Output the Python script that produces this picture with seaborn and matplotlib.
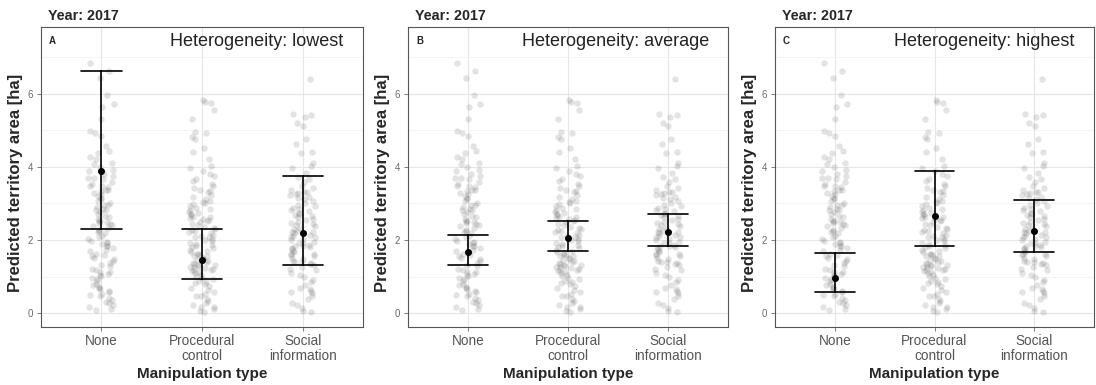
import numpy as np
import pandas as pd
import matplotlib
matplotlib.use("Agg")
import matplotlib.pyplot as plt
from matplotlib.ticker import FixedLocator
import seaborn as sns

# Manipulation categories and their axis labels
categories = ["None", "Procedural control", "Social information"]
tick_labels = ["None", "Procedural\ncontrol", "Social\ninformation"]

# Observed territory areas [ha] per manipulation type
area_none = [6.85, 6.62, 6.44, 5.96, 5.72, 5.63, 5.31, 4.98, 4.92, 4.86, 4.58, 4.43,
             4.38, 4.27, 4.21, 4.12, 4.07, 4.01, 3.93, 3.88, 3.81, 3.74, 3.69, 3.66,
             3.58, 3.52, 3.47, 3.44, 3.38, 3.33, 3.29, 3.27, 3.21, 3.14, 3.08, 3.02,
             2.97, 2.91, 2.86, 2.83, 2.77, 2.71, 2.66, 2.58, 2.53, 2.49, 2.46, 2.41,
             2.38, 2.33, 2.27, 2.24, 2.18, 2.11, 2.07, 2.02, 1.97, 1.93, 1.88, 1.84,
             1.79, 1.73, 1.69, 1.62, 1.58, 1.51, 1.47, 1.42, 1.36, 1.31, 1.28, 1.22,
             1.17, 1.13, 1.08, 1.02, 0.97, 0.93, 0.87, 0.81, 0.78, 0.72, 0.66, 0.61,
             0.57, 0.52, 0.46, 0.41, 0.36, 0.31, 0.27, 0.22, 0.17, 0.12, 0.08, 3.12,
             2.62, 1.95, 1.55, 2.81, 3.49, 2.21, 1.12, 0.68, 2.95, 1.83, 2.43, 3.36,
             3.71, 2.51, 1.04, 0.49]
area_procedural = [5.82, 5.78, 5.74, 5.55, 5.31, 4.97, 4.93, 4.83, 4.77, 4.52, 4.41,
                   4.22, 4.03, 3.97, 3.88, 3.82, 3.74, 3.66, 3.61, 3.54, 3.47, 3.42,
                   3.36, 3.31, 3.24, 3.18, 3.12, 3.07, 3.03, 2.98, 2.94, 2.89, 2.86,
                   2.81, 2.77, 2.73, 2.69, 2.64, 2.61, 2.57, 2.52, 2.48, 2.45, 2.41,
                   2.37, 2.33, 2.29, 2.26, 2.21, 2.18, 2.14, 2.11, 2.07, 2.03, 1.99,
                   1.96, 1.92, 1.88, 1.85, 1.81, 1.77, 1.74, 1.71, 1.67, 1.63, 1.59,
                   1.56, 1.52, 1.49, 1.45, 1.42, 1.38, 1.35, 1.31, 1.28, 1.25, 1.22,
                   1.18, 1.15, 1.12, 1.09, 1.05, 1.01, 0.97, 0.93, 0.89, 0.84, 0.79,
                   0.74, 0.68, 0.63, 0.57, 0.51, 0.46, 0.39, 0.33, 0.27, 0.21, 0.16,
                   0.11, 0.07, 0.04, 1.27, 1.33, 2.63, 1.41, 2.55, 1.19, 1.62, 2.08,
                   3.02, 2.71, 1.86, 0.48, 0.18, 2.27, 1.55, 3.33, 1.23, 0.82]
area_social = [6.41, 5.46, 5.41, 5.36, 5.21, 5.12, 4.76, 4.63, 4.42, 4.38, 4.12, 4.03,
               3.98, 3.84, 3.72, 3.66, 3.58, 3.49, 3.43, 3.37, 3.32, 3.28, 3.22, 3.17,
               3.11, 3.06, 3.01, 2.96, 2.92, 2.88, 2.83, 2.79, 2.74, 2.71, 2.66, 2.62,
               2.58, 2.54, 2.50, 2.46, 2.42, 2.38, 2.34, 2.30, 2.26, 2.22, 2.19, 2.15,
               2.11, 2.07, 2.03, 1.99, 1.95, 1.91, 1.87, 1.83, 1.79, 1.75, 1.71, 1.67,
               1.63, 1.59, 1.55, 1.51, 1.47, 1.43, 1.39, 1.35, 1.31, 1.27, 1.22, 1.17,
               1.11, 1.05, 0.98, 0.91, 0.84, 0.76, 0.68, 0.61, 0.55, 0.47, 0.38, 0.29,
               0.21, 0.13, 0.07, 0.04, 3.27, 3.31, 2.86, 1.82, 1.84, 1.41, 2.21, 2.68,
               1.63, 3.15, 2.44, 1.93, 0.58, 0.65, 2.09, 1.37]

# Model predictions per heterogeneity level: mean, lower and upper interval bound
panel_letters = ["A", "B", "C"]
heterogeneity = ["lowest", "average", "highest"]
pred_mean = [[3.89, 1.45, 2.20], [1.68, 2.06, 2.22], [0.96, 2.66, 2.26]]
pred_lower = [[2.29, 0.92, 1.31], [1.33, 1.71, 1.83], [0.57, 1.84, 1.66]]
pred_upper = [[6.63, 2.29, 3.74], [2.14, 2.52, 2.70], [1.65, 3.88, 3.10]]

raw = pd.DataFrame({
    "type": (["None"] * len(area_none) + ["Procedural control"] * len(area_procedural)
             + ["Social information"] * len(area_social)),
    "area": area_none + area_procedural + area_social,
})

sns.set_theme(style="white")
plt.rcParams["font.family"] = ["Liberation Sans", "DejaVu Sans"]

fig = plt.figure(figsize=(10.96, 3.85), dpi=100)
lefts = [41, 408, 775]
rights = [363, 728, 1094]
W, H = 1096, 385
bottom, top = 327, 27

for i in range(3):
    ax = fig.add_axes([lefts[i] / W, (H - bottom) / H,
                       (rights[i] - lefts[i]) / W, (bottom - top) / H])
    np.random.seed(7)
    sns.stripplot(data=raw, x="type", y="area", order=categories, ax=ax,
                  jitter=0.13, color="#5a5a5a", alpha=0.17, size=4.6,
                  linewidth=0, zorder=2)

    summary = pd.DataFrame({
        "type": categories * 3,
        "value": pred_lower[i] + pred_mean[i] + pred_upper[i],
    })
    sns.pointplot(data=summary, x="type", y="value", order=categories, ax=ax,
                  estimator="median", errorbar=lambda v: (v.min(), v.max()),
                  color="black", linestyle="none", markersize=3,
                  capsize=0.4, err_kws={"linewidth": 1.2}, zorder=4)

    ax.set_xlim(-0.6, 2.6)
    ax.set_ylim(-0.38, 7.83)
    ax.yaxis.set_major_locator(FixedLocator([0, 2, 4, 6]))
    ax.yaxis.set_minor_locator(FixedLocator([1, 3, 5, 7]))
    ax.set_xticks(range(3))
    ax.set_xticklabels(tick_labels, fontsize=9.8, color="#555555", linespacing=1.1)
    ax.tick_params(axis="y", which="major", labelsize=7, labelcolor="#6a6a6a",
                   length=3, width=0.6, color="#666666", pad=2.5, left=True)
    ax.tick_params(axis="y", which="minor", length=0, left=False)
    ax.tick_params(axis="x", length=3, width=0.6, color="#666666", pad=2, bottom=True)

    ax.grid(True, which="major", color="#e6e6e6", linewidth=0.8, zorder=0)
    ax.grid(True, which="minor", axis="y", color="#f0f0f0", linewidth=0.5, zorder=0)
    ax.set_axisbelow(True)
    for sp in ax.spines.values():
        sp.set_color("#555555")
        sp.set_linewidth(0.8)

    ax.set_xlabel("Manipulation type", fontsize=11, fontweight="bold", labelpad=3)
    ax.set_ylabel("Predicted territory area [ha]", fontsize=12, fontweight="bold",
                  labelpad=3)
    ax.yaxis.set_label_coords(-0.057, 0.48)

    ax.text(0.022, 1.015, "Year: 2017", transform=ax.transAxes, ha="left", va="bottom",
            fontsize=10.3, fontweight="bold")
    ax.text(0.025, 0.97, panel_letters[i], transform=ax.transAxes, ha="left",
            va="top", fontsize=7, fontweight="bold")
    ax.text(0.94, 0.953, f"Heterogeneity: {heterogeneity[i]}", transform=ax.transAxes,
            ha="right", va="center", fontsize=13, color="#222222")

fig.savefig("out.png", dpi=100)
